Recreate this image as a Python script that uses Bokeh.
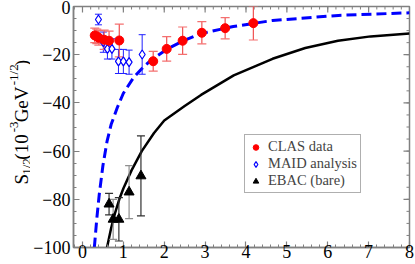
import math
from bokeh.plotting import figure
from bokeh.layouts import row
from bokeh.models import Range1d, FixedTicker, Legend, LegendItem
from bokeh.core.properties import value
from bokeh.embed import file_html
from bokeh.resources import INLINE

# ---------------- data ----------------
clas_q2 = [0.30, 0.35, 0.40, 0.53, 0.65, 0.90, 1.73, 2.06, 2.45, 2.92, 3.49, 4.18]
clas_s = [-12.0, -12.4, -13.0, -13.8, -14.2, -14.1, -22.7, -17.6, -14.2, -10.9, -9.0, -6.9]
clas_err = [3.0, 3.0, 3.0, 4.0, 4.0, 6.8, 4.1, 5.1, 5.7, 4.6, 4.4, 7.0]

maid_q2 = [0.39, 0.51, 0.61, 0.72, 0.88, 1.00, 1.14, 1.46]
maid_s = [-5.4, -14.8, -17.6, -17.6, -22.8, -22.8, -23.1, -19.9]
maid_err = [2.2, 4.2, 4.2, 4.2, 5.0, 5.0, 5.0, 8.2]

ebac_q2 = [0.65, 0.75, 0.89, 1.14, 1.43]
ebac_s = [-82.0, -88.3, -88.3, -77.0, -70.3]
ebac_err = [4.5, 8.3, 9.0, 11.0, 16.6]

fit_q2 = [0.29, 0.35, 0.41, 0.50, 0.60, 0.70, 0.85, 1.00, 1.25, 1.50, 1.70,
          2.08, 2.48, 2.88, 3.69, 4.65, 6.26, 8.00]
fit_s = [-100, -88, -78, -66, -56, -49, -42, -36, -29.5, -24.9, -21.9,
         -17.6, -14.1, -11.3, -8.3, -5.8, -3.7, -2.6]

bare_q2 = [0.60, 0.70, 0.80, 0.90, 1.00, 1.20, 1.45, 1.75, 2.00, 2.50, 2.90,
           3.70, 4.65, 5.45, 6.25, 7.05, 8.00]
bare_s = [-100, -92, -85.5, -80, -75.5, -68, -60, -52.5, -47.3, -41.3, -36.7,
          -28.6, -21.7, -17.2, -14.2, -12.4, -11.2]

x_major = [0, 1, 2, 3, 4, 5, 6, 7, 8]
y_major = [-100, -80, -60, -40, -20, 0]
x_minor = [i * 0.2 for i in range(-1, 41)]
y_minor = [-100 + 5 * i for i in range(21)]

# ---------------- layout constants ----------------
FONT = "Times New Roman"
AX = "#808080"
X0, X1, Y0, Y1 = -0.22, 8.0, -100.0, 0.0
LW = 30                       # width of the strip that holds the y label
W, H = 415, 264
BL, BR, BT, BB = 69 - LW, 6, 6, 17

p = figure(width=W - LW, height=H, output_backend="svg", toolbar_location=None,
           x_range=Range1d(X0, X1), y_range=Range1d(Y0, Y1),
           min_border_left=BL, min_border_right=BR, min_border_top=BT, min_border_bottom=BB)
p.xgrid.visible = False
p.ygrid.visible = False
p.outline_line_color = AX
p.outline_line_width = 1.5
p.background_fill_color = "white"
p.border_fill_color = "white"

def style_axis(ax, major, minor):
    ax.ticker = FixedTicker(ticks=major, minor_ticks=minor)
    ax.axis_line_color = AX
    ax.axis_line_width = 1.5
    ax.major_tick_line_color = AX
    ax.minor_tick_line_color = AX
    ax.major_tick_line_width = 1.2
    ax.minor_tick_line_width = 1.0
    ax.major_tick_in = 6
    ax.major_tick_out = 0
    ax.minor_tick_in = 3
    ax.minor_tick_out = 0
    ax.major_label_text_font = FONT
    ax.major_label_text_color = "black"
    ax.major_label_text_font_size = "18px"

style_axis(p.xaxis[0], x_major, x_minor)
style_axis(p.yaxis[0], y_major, y_minor)
p.xaxis[0].major_label_standoff = -3
p.yaxis[0].major_label_standoff = 3

# ticks on the top and right edges (half of each centred dash is clipped away)
p.scatter(x_major, [Y1] * len(x_major), marker="dash", angle=math.pi / 2, size=12,
          line_color=AX, line_width=1.2)
p.scatter(x_minor, [Y1] * len(x_minor), marker="dash", angle=math.pi / 2, size=6,
          line_color=AX, line_width=1.0)
p.scatter([X1] * len(y_major), y_major, marker="dash", size=12, line_color=AX, line_width=1.2)
p.scatter([X1] * len(y_minor), y_minor, marker="dash", size=6, line_color=AX, line_width=1.0)

# ---------------- curves ----------------
p.line(fit_q2, fit_s, line_color="#0000ff", line_width=3, line_dash="10 5")
p.line(bare_q2, bare_s, line_color="black", line_width=2.5)

# ---------------- error bars ----------------
def errbars(xs, ys, es, stem_color, cap_color, cap_size, width=1.2):
    lo = [y - e for y, e in zip(ys, es)]
    hi = [y + e for y, e in zip(ys, es)]
    p.segment(x0=xs, y0=lo, x1=xs, y1=hi, line_color=stem_color, line_width=width)
    p.scatter(xs + xs, lo + hi, marker="dash", size=cap_size, line_color=cap_color,
              line_width=width, fill_color=None)

ebac_colors = ["#303030", "#909090", "#303030", "#909090", "#303030"]
errbars(ebac_q2, ebac_s, ebac_err, ebac_colors, ebac_colors + ebac_colors, 8)
errbars(maid_q2, maid_s, maid_err, "#2020ff", "#2020ff", 7, 1.0)
errbars(clas_q2, clas_s, clas_err, "#f05050", "#f47070", 9)

# ---------------- markers ----------------
r_maid = p.scatter(maid_q2, maid_s, marker="diamond", size=9, fill_color="white",
                   line_color="#0000ff", line_width=1.2)
r_ebac = p.scatter(ebac_q2, ebac_s, marker="triangle", size=10, fill_color="black",
                   line_color="black")
r_clas = p.scatter(clas_q2, clas_s, marker="circle", size=9, fill_color="#ff0000",
                   line_color="#ff0000")

legend = Legend(items=[LegendItem(label="CLAS data", renderers=[r_clas]),
                       LegendItem(label="MAID analysis", renderers=[r_maid]),
                       LegendItem(label="EBAC (bare)", renderers=[r_ebac])],
                location=(171, 54), label_text_font=FONT, label_text_font_size="14.5px",
                glyph_width=15, glyph_height=14, label_height=13, label_standoff=5,
                spacing=0, padding=3, margin=0, border_line_color="#606060",
                border_line_width=1, background_fill_color="white", background_fill_alpha=1)
p.add_layout(legend)

# ---------------- y axis label strip with sub/superscripts ----------------
lab = figure(width=LW, height=H, output_backend="svg", toolbar_location=None,
             x_range=Range1d(0, LW), y_range=Range1d(0, H), min_border=0)
lab.axis.visible = False
lab.xgrid.visible = False
lab.ygrid.visible = False
lab.outline_line_color = None
lab.background_fill_color = "white"
lab.border_fill_color = "white"

char_w = {"S": 0.556, "1": 0.5, "0": 0.5, "2": 0.5, "3": 0.5, "/": 0.278, " ": 0.25,
          "(": 0.333, ")": 0.333, "-": 0.333, "G": 0.722, "e": 0.444, "V": 0.722}
ylabel_parts = [("S", "main"), ("1/2", "sub"), (" (10", "main"), ("-3", "sup"),
                (" GeV", "main"), ("-1/2", "sup"), (")", "main")]
size_of = {"main": 19, "sub": 13, "sup": 13}
shift_of = {"main": 0, "sub": 5, "sup": -8}
base_x = 21
widths = [sum(char_w[c] for c in t) * size_of[k] for t, k in ylabel_parts]
pos = (H - 127) - sum(widths) / 2
for (t, k), w in zip(ylabel_parts, widths):
    lab.text(x=[base_x + shift_of[k]], y=[pos], text=[t], angle=math.pi / 2,
             text_font=value(FONT), text_font_size=value(f"{size_of[k]}px"),
             text_align="left", text_baseline="alphabetic", text_color="black")
    pos += w

layout = row(lab, p, spacing=0)
open("out.html", "w").write(file_html(layout, INLINE))
